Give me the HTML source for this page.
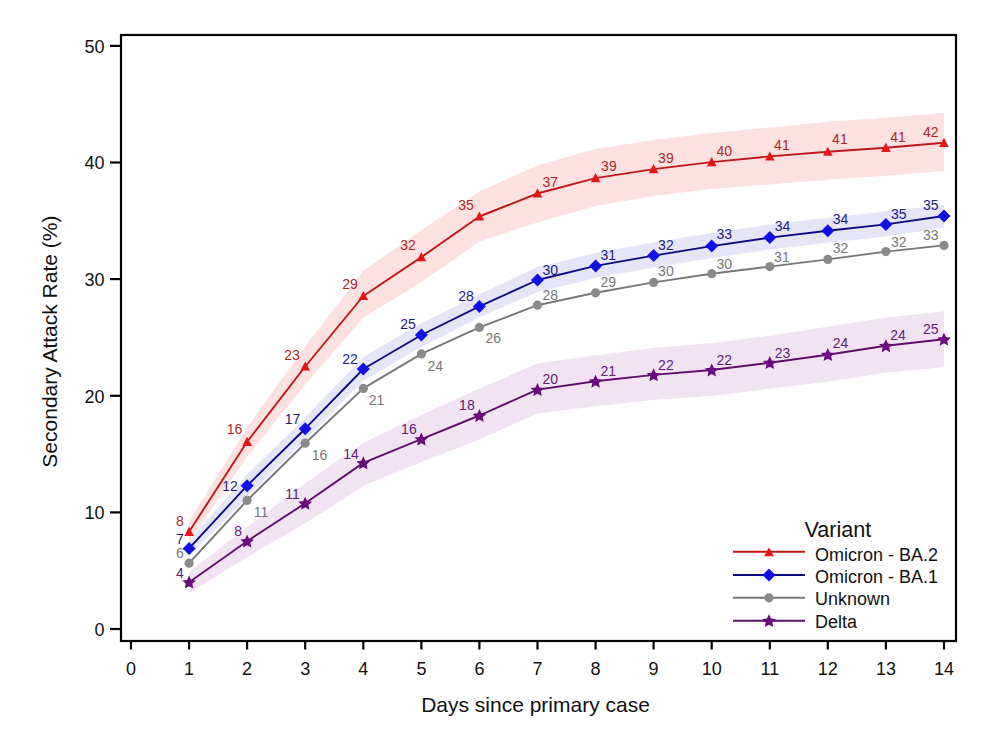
<!DOCTYPE html>
<html><head><meta charset="utf-8"><style>
html,body{margin:0;padding:0;background:#fff;}
svg{display:block;font-family:"Liberation Sans",sans-serif;}
</style></head><body>
<svg width="993" height="745" viewBox="0 0 993 745">
<rect width="993" height="745" fill="#fff"/>
<path d="M189.1,521.8 C189.1,521.8 247.1,427.8 247.1,427.8 C247.1,427.8 305.2,346.5 305.2,346.5 C305.2,346.5 363.3,271.0 363.3,271.0 C363.3,271.0 421.4,230.1 421.4,230.1 C421.4,230.1 479.4,191.5 479.4,191.5 C479.4,191.5 537.5,165.5 537.5,165.5 C537.5,165.5 595.6,149.1 595.6,149.1 C595.6,149.1 653.6,140.1 653.6,140.1 C653.6,140.1 711.7,133.1 711.7,133.1 C711.7,133.1 769.8,127.4 769.8,127.4 C769.8,127.4 827.8,121.7 827.8,121.7 C827.8,121.7 885.9,117.8 885.9,117.8 C885.9,117.8 944.0,112.8 944.0,112.8 L944.0,170.8 C944.0,170.8 885.9,175.8 885.9,175.8 C885.9,175.8 827.8,179.7 827.8,179.7 C827.8,179.7 769.8,184.4 769.8,184.4 C769.8,184.4 711.7,189.1 711.7,189.1 C711.7,189.1 653.6,196.1 653.6,196.1 C653.6,196.1 595.6,206.1 595.6,206.1 C595.6,206.1 537.5,222.5 537.5,222.5 C537.5,222.5 479.4,241.5 479.4,241.5 C479.4,241.5 421.4,282.1 421.4,282.1 C421.4,282.1 363.3,318.0 363.3,318.0 C363.3,318.0 305.2,384.5 305.2,384.5 C305.2,384.5 247.1,456.8 247.1,456.8 C247.1,456.8 189.1,541.8 189.1,541.8 Z" fill="#fde1e1"/>
<path d="M189.1,540.4 C189.1,540.4 247.1,474.7 247.1,474.7 C247.1,474.7 305.2,417.7 305.2,417.7 C305.2,417.7 363.3,357.0 363.3,357.0 C363.3,357.0 421.4,323.0 421.4,323.0 C421.4,323.0 479.4,294.4 479.4,294.4 C479.4,294.4 537.5,267.0 537.5,267.0 C537.5,267.0 595.6,252.9 595.6,252.9 C595.6,252.9 653.6,242.6 653.6,242.6 C653.6,242.6 711.7,233.1 711.7,233.1 C711.7,233.1 769.8,224.6 769.8,224.6 C769.8,224.6 827.8,217.7 827.8,217.7 C827.8,217.7 885.9,211.4 885.9,211.4 C885.9,211.4 944.0,205.0 944.0,205.0 L944.0,228.0 C944.0,228.0 885.9,236.4 885.9,236.4 C885.9,236.4 827.8,242.7 827.8,242.7 C827.8,242.7 769.8,249.6 769.8,249.6 C769.8,249.6 711.7,258.1 711.7,258.1 C711.7,258.1 653.6,267.6 653.6,267.6 C653.6,267.6 595.6,277.9 595.6,277.9 C595.6,277.9 537.5,292.0 537.5,292.0 C537.5,292.0 479.4,317.4 479.4,317.4 C479.4,317.4 421.4,347.0 421.4,347.0 C421.4,347.0 363.3,381.0 363.3,381.0 C363.3,381.0 305.2,439.7 305.2,439.7 C305.2,439.7 247.1,496.7 247.1,496.7 C247.1,496.7 189.1,556.4 189.1,556.4 Z" fill="#e6e5f8"/>
<path d="M189.1,572.2 C189.1,572.2 247.1,527.2 247.1,527.2 C247.1,527.2 305.2,483.3 305.2,483.3 C305.2,483.3 363.3,442.9 363.3,442.9 C363.3,442.9 421.4,415.1 421.4,415.1 C421.4,415.1 479.4,388.5 479.4,388.5 C479.4,388.5 537.5,363.6 537.5,363.6 C537.5,363.6 595.6,355.3 595.6,355.3 C595.6,355.3 653.6,347.9 653.6,347.9 C653.6,347.9 711.7,343.0 711.7,343.0 C711.7,343.0 769.8,335.7 769.8,335.7 C769.8,335.7 827.8,326.7 827.8,326.7 C827.8,326.7 885.9,317.8 885.9,317.8 C885.9,317.8 944.0,311.3 944.0,311.3 L944.0,367.3 C944.0,367.3 885.9,372.8 885.9,372.8 C885.9,372.8 827.8,381.7 827.8,381.7 C827.8,381.7 769.8,388.7 769.8,388.7 C769.8,388.7 711.7,396.0 711.7,396.0 C711.7,396.0 653.6,399.9 653.6,399.9 C653.6,399.9 595.6,406.3 595.6,406.3 C595.6,406.3 537.5,413.6 537.5,413.6 C537.5,413.6 479.4,439.5 479.4,439.5 C479.4,439.5 421.4,462.1 421.4,462.1 C421.4,462.1 363.3,485.9 363.3,485.9 C363.3,485.9 305.2,523.3 305.2,523.3 C305.2,523.3 247.1,557.2 247.1,557.2 C247.1,557.2 189.1,593.2 189.1,593.2 Z" fill="#f1e3f2"/>
<polyline points="189.1,563.2 247.1,500.4 305.2,443.2 363.3,388.4 421.4,353.9 479.4,327.4 537.5,305.2 595.6,292.8 653.6,282.4 711.7,273.7 769.8,266.6 827.8,259.4 885.9,251.6 944.0,245.4" fill="none" stroke="#777777" stroke-width="1.9" stroke-linejoin="round"/>
<polyline points="189.1,582.2 247.1,541.2 305.2,503.3 363.3,462.9 421.4,439.1 479.4,415.5 537.5,389.6 595.6,381.3 653.6,374.9 711.7,370.0 769.8,362.7 827.8,354.7 885.9,345.8 944.0,339.3" fill="none" stroke="#5e0f6a" stroke-width="1.9" stroke-linejoin="round"/>
<polyline points="189.1,548.4 247.1,485.7 305.2,428.7 363.3,369.0 421.4,335.0 479.4,306.4 537.5,280.0 595.6,265.9 653.6,255.6 711.7,246.1 769.8,237.6 827.8,230.7 885.9,224.4 944.0,216.0" fill="none" stroke="#0c0c80" stroke-width="1.9" stroke-linejoin="round"/>
<polyline points="189.1,531.8 247.1,441.8 305.2,366.5 363.3,296.0 421.4,257.1 479.4,216.5 537.5,193.5 595.6,178.1 653.6,169.1 711.7,162.1 769.8,156.4 827.8,151.7 885.9,147.8 944.0,142.8" fill="none" stroke="#bc1a1a" stroke-width="1.9" stroke-linejoin="round"/>
<circle cx="189.1" cy="563.2" r="4.6" fill="#8a8a8a"/>
<polygon points="189.07,575.60 191.10,580.00 195.92,580.58 192.36,583.87 193.30,588.62 189.07,586.26 184.84,588.62 185.78,583.87 182.22,580.58 187.04,580.00" fill="#6a0a7e"/>
<path d="M189.1,541.9 L195.6,548.4 L189.1,554.9 L182.6,548.4Z" fill="#1010e6"/>
<path d="M189.1,526.8 L193.9,535.9 L184.3,535.9Z" fill="#e81414"/>
<circle cx="247.1" cy="500.4" r="4.6" fill="#8a8a8a"/>
<polygon points="247.14,534.60 249.17,539.00 253.99,539.58 250.43,542.87 251.37,547.62 247.14,545.26 242.91,547.62 243.85,542.87 240.29,539.58 245.11,539.00" fill="#6a0a7e"/>
<path d="M247.1,479.2 L253.6,485.7 L247.1,492.2 L240.6,485.7Z" fill="#1010e6"/>
<path d="M247.1,436.8 L251.9,445.9 L242.3,445.9Z" fill="#e81414"/>
<circle cx="305.2" cy="443.2" r="4.6" fill="#8a8a8a"/>
<polygon points="305.21,496.70 307.24,501.10 312.06,501.68 308.50,504.97 309.44,509.72 305.21,507.36 300.98,509.72 301.92,504.97 298.36,501.68 303.18,501.10" fill="#6a0a7e"/>
<path d="M305.2,422.2 L311.7,428.7 L305.2,435.2 L298.7,428.7Z" fill="#1010e6"/>
<path d="M305.2,361.5 L310.0,370.6 L300.4,370.6Z" fill="#e81414"/>
<circle cx="363.3" cy="388.4" r="4.6" fill="#8a8a8a"/>
<polygon points="363.28,456.30 365.31,460.70 370.13,461.28 366.57,464.57 367.51,469.32 363.28,466.96 359.05,469.32 359.99,464.57 356.43,461.28 361.25,460.70" fill="#6a0a7e"/>
<path d="M363.3,362.5 L369.8,369.0 L363.3,375.5 L356.8,369.0Z" fill="#1010e6"/>
<path d="M363.3,291.0 L368.1,300.1 L358.5,300.1Z" fill="#e81414"/>
<circle cx="421.4" cy="353.9" r="4.6" fill="#8a8a8a"/>
<polygon points="421.35,432.50 423.38,436.90 428.20,437.48 424.64,440.77 425.58,445.52 421.35,443.16 417.12,445.52 418.06,440.77 414.50,437.48 419.32,436.90" fill="#6a0a7e"/>
<path d="M421.4,328.5 L427.9,335.0 L421.4,341.5 L414.9,335.0Z" fill="#1010e6"/>
<path d="M421.4,252.1 L426.2,261.2 L416.6,261.2Z" fill="#e81414"/>
<circle cx="479.4" cy="327.4" r="4.6" fill="#8a8a8a"/>
<polygon points="479.42,408.90 481.45,413.30 486.27,413.88 482.71,417.17 483.65,421.92 479.42,419.56 475.19,421.92 476.13,417.17 472.57,413.88 477.39,413.30" fill="#6a0a7e"/>
<path d="M479.4,299.9 L485.9,306.4 L479.4,312.9 L472.9,306.4Z" fill="#1010e6"/>
<path d="M479.4,211.5 L484.2,220.6 L474.6,220.6Z" fill="#e81414"/>
<circle cx="537.5" cy="305.2" r="4.6" fill="#8a8a8a"/>
<polygon points="537.49,383.00 539.52,387.40 544.34,387.98 540.78,391.27 541.72,396.02 537.49,393.66 533.26,396.02 534.20,391.27 530.64,387.98 535.46,387.40" fill="#6a0a7e"/>
<path d="M537.5,273.5 L544.0,280.0 L537.5,286.5 L531.0,280.0Z" fill="#1010e6"/>
<path d="M537.5,188.5 L542.3,197.6 L532.7,197.6Z" fill="#e81414"/>
<circle cx="595.6" cy="292.8" r="4.6" fill="#8a8a8a"/>
<polygon points="595.56,374.70 597.59,379.10 602.41,379.68 598.85,382.97 599.79,387.72 595.56,385.36 591.33,387.72 592.27,382.97 588.71,379.68 593.53,379.10" fill="#6a0a7e"/>
<path d="M595.6,259.4 L602.1,265.9 L595.6,272.4 L589.1,265.9Z" fill="#1010e6"/>
<path d="M595.6,173.1 L600.4,182.2 L590.8,182.2Z" fill="#e81414"/>
<circle cx="653.6" cy="282.4" r="4.6" fill="#8a8a8a"/>
<polygon points="653.63,368.30 655.66,372.70 660.48,373.28 656.92,376.57 657.86,381.32 653.63,378.96 649.40,381.32 650.34,376.57 646.78,373.28 651.60,372.70" fill="#6a0a7e"/>
<path d="M653.6,249.1 L660.1,255.6 L653.6,262.1 L647.1,255.6Z" fill="#1010e6"/>
<path d="M653.6,164.1 L658.4,173.2 L648.8,173.2Z" fill="#e81414"/>
<circle cx="711.7" cy="273.7" r="4.6" fill="#8a8a8a"/>
<polygon points="711.70,363.40 713.73,367.80 718.55,368.38 714.99,371.67 715.93,376.42 711.70,374.06 707.47,376.42 708.41,371.67 704.85,368.38 709.67,367.80" fill="#6a0a7e"/>
<path d="M711.7,239.6 L718.2,246.1 L711.7,252.6 L705.2,246.1Z" fill="#1010e6"/>
<path d="M711.7,157.1 L716.5,166.2 L706.9,166.2Z" fill="#e81414"/>
<circle cx="769.8" cy="266.6" r="4.6" fill="#8a8a8a"/>
<polygon points="769.77,356.10 771.80,360.50 776.62,361.08 773.06,364.37 774.00,369.12 769.77,366.76 765.54,369.12 766.48,364.37 762.92,361.08 767.74,360.50" fill="#6a0a7e"/>
<path d="M769.8,231.1 L776.3,237.6 L769.8,244.1 L763.3,237.6Z" fill="#1010e6"/>
<path d="M769.8,151.4 L774.6,160.5 L765.0,160.5Z" fill="#e81414"/>
<circle cx="827.8" cy="259.4" r="4.6" fill="#8a8a8a"/>
<polygon points="827.84,348.10 829.87,352.50 834.69,353.08 831.13,356.37 832.07,361.12 827.84,358.76 823.61,361.12 824.55,356.37 820.99,353.08 825.81,352.50" fill="#6a0a7e"/>
<path d="M827.8,224.2 L834.3,230.7 L827.8,237.2 L821.3,230.7Z" fill="#1010e6"/>
<path d="M827.8,146.7 L832.6,155.8 L823.0,155.8Z" fill="#e81414"/>
<circle cx="885.9" cy="251.6" r="4.6" fill="#8a8a8a"/>
<polygon points="885.91,339.20 887.94,343.60 892.76,344.18 889.20,347.47 890.14,352.22 885.91,349.86 881.68,352.22 882.62,347.47 879.06,344.18 883.88,343.60" fill="#6a0a7e"/>
<path d="M885.9,217.9 L892.4,224.4 L885.9,230.9 L879.4,224.4Z" fill="#1010e6"/>
<path d="M885.9,142.8 L890.7,151.9 L881.1,151.9Z" fill="#e81414"/>
<circle cx="944.0" cy="245.4" r="4.6" fill="#8a8a8a"/>
<polygon points="943.98,332.70 946.01,337.10 950.83,337.68 947.27,340.97 948.21,345.72 943.98,343.36 939.75,345.72 940.69,340.97 937.13,337.68 941.95,337.10" fill="#6a0a7e"/>
<path d="M944.0,209.5 L950.5,216.0 L944.0,222.5 L937.5,216.0Z" fill="#1010e6"/>
<path d="M944.0,137.8 L948.8,146.9 L939.2,146.9Z" fill="#e81414"/>
<g font-size="14">
<text x="180.0" y="525.9" fill="#a82a2a" text-anchor="middle">8</text>
<text x="234.6" y="433.7" fill="#a82a2a" text-anchor="middle">16</text>
<text x="292.0" y="359.9" fill="#a82a2a" text-anchor="middle">23</text>
<text x="350.0" y="288.9" fill="#a82a2a" text-anchor="middle">29</text>
<text x="408.1" y="249.8" fill="#a82a2a" text-anchor="middle">32</text>
<text x="466.1" y="209.9" fill="#a82a2a" text-anchor="middle">35</text>
<text x="550.2" y="186.5" fill="#a82a2a" text-anchor="middle">37</text>
<text x="608.9" y="170.7" fill="#a82a2a" text-anchor="middle">39</text>
<text x="665.9" y="162.6" fill="#a82a2a" text-anchor="middle">39</text>
<text x="724.2" y="155.6" fill="#a82a2a" text-anchor="middle">40</text>
<text x="781.9" y="150.2" fill="#a82a2a" text-anchor="middle">41</text>
<text x="839.9" y="144.4" fill="#a82a2a" text-anchor="middle">41</text>
<text x="898.1" y="141.7" fill="#a82a2a" text-anchor="middle">41</text>
<text x="930.7" y="136.6" fill="#a82a2a" text-anchor="middle">42</text>
<text x="180.0" y="543.5" fill="#1c1c80" text-anchor="middle">7</text>
<text x="230.0" y="491.1" fill="#1c1c80" text-anchor="middle">12</text>
<text x="292.6" y="424.4" fill="#1c1c80" text-anchor="middle">17</text>
<text x="350.0" y="364.1" fill="#1c1c80" text-anchor="middle">22</text>
<text x="408.1" y="328.9" fill="#1c1c80" text-anchor="middle">25</text>
<text x="466.1" y="300.9" fill="#1c1c80" text-anchor="middle">28</text>
<text x="550.2" y="274.7" fill="#1c1c80" text-anchor="middle">30</text>
<text x="608.2" y="260.2" fill="#1c1c80" text-anchor="middle">31</text>
<text x="665.9" y="249.8" fill="#1c1c80" text-anchor="middle">32</text>
<text x="724.2" y="239.3" fill="#1c1c80" text-anchor="middle">33</text>
<text x="782.6" y="230.7" fill="#1c1c80" text-anchor="middle">34</text>
<text x="840.6" y="224.2" fill="#1c1c80" text-anchor="middle">34</text>
<text x="898.8" y="218.9" fill="#1c1c80" text-anchor="middle">35</text>
<text x="930.7" y="209.8" fill="#1c1c80" text-anchor="middle">35</text>
<text x="180.0" y="557.9" fill="#777777" text-anchor="middle">6</text>
<text x="261.0" y="516.7" fill="#777777" text-anchor="middle">11</text>
<text x="319.5" y="460.0" fill="#777777" text-anchor="middle">16</text>
<text x="376.5" y="405.0" fill="#777777" text-anchor="middle">21</text>
<text x="435.3" y="370.6" fill="#777777" text-anchor="middle">24</text>
<text x="493.3" y="343.4" fill="#777777" text-anchor="middle">26</text>
<text x="550.2" y="299.8" fill="#777777" text-anchor="middle">28</text>
<text x="608.2" y="287.4" fill="#777777" text-anchor="middle">29</text>
<text x="665.9" y="276.0" fill="#777777" text-anchor="middle">30</text>
<text x="724.2" y="269.0" fill="#777777" text-anchor="middle">30</text>
<text x="781.9" y="261.5" fill="#777777" text-anchor="middle">31</text>
<text x="840.6" y="253.2" fill="#777777" text-anchor="middle">32</text>
<text x="898.8" y="246.8" fill="#777777" text-anchor="middle">32</text>
<text x="930.7" y="239.6" fill="#777777" text-anchor="middle">33</text>
<text x="180.0" y="577.6" fill="#5e1e72" text-anchor="middle">4</text>
<text x="238.2" y="535.7" fill="#5e1e72" text-anchor="middle">8</text>
<text x="292.5" y="498.7" fill="#5e1e72" text-anchor="middle">11</text>
<text x="351.0" y="458.5" fill="#5e1e72" text-anchor="middle">14</text>
<text x="408.9" y="434.0" fill="#5e1e72" text-anchor="middle">16</text>
<text x="466.9" y="409.7" fill="#5e1e72" text-anchor="middle">18</text>
<text x="550.2" y="384.3" fill="#5e1e72" text-anchor="middle">20</text>
<text x="608.2" y="375.9" fill="#5e1e72" text-anchor="middle">21</text>
<text x="665.9" y="370.1" fill="#5e1e72" text-anchor="middle">22</text>
<text x="724.2" y="364.9" fill="#5e1e72" text-anchor="middle">22</text>
<text x="782.6" y="357.6" fill="#5e1e72" text-anchor="middle">23</text>
<text x="840.6" y="347.8" fill="#5e1e72" text-anchor="middle">24</text>
<text x="898.1" y="340.4" fill="#5e1e72" text-anchor="middle">24</text>
<text x="930.7" y="333.9" fill="#5e1e72" text-anchor="middle">25</text>
</g>
<rect x="121" y="35" width="835" height="606" fill="none" stroke="#000" stroke-width="2.2"/>
<g font-size="18" fill="#111"><line x1="110" y1="629.0" x2="121" y2="629.0" stroke="#000" stroke-width="2.2"/>
<text x="104.5" y="635.7" text-anchor="end">0</text>
<line x1="110" y1="512.4" x2="121" y2="512.4" stroke="#000" stroke-width="2.2"/>
<text x="104.5" y="519.1" text-anchor="end">10</text>
<line x1="110" y1="395.8" x2="121" y2="395.8" stroke="#000" stroke-width="2.2"/>
<text x="104.5" y="402.5" text-anchor="end">20</text>
<line x1="110" y1="279.1" x2="121" y2="279.1" stroke="#000" stroke-width="2.2"/>
<text x="104.5" y="285.8" text-anchor="end">30</text>
<line x1="110" y1="162.5" x2="121" y2="162.5" stroke="#000" stroke-width="2.2"/>
<text x="104.5" y="169.2" text-anchor="end">40</text>
<line x1="110" y1="45.9" x2="121" y2="45.9" stroke="#000" stroke-width="2.2"/>
<text x="104.5" y="52.6" text-anchor="end">50</text>
<line x1="131.0" y1="641" x2="131.0" y2="649.5" stroke="#000" stroke-width="2.2"/>
<text x="131.0" y="675.3" text-anchor="middle">0</text>
<line x1="189.1" y1="641" x2="189.1" y2="649.5" stroke="#000" stroke-width="2.2"/>
<text x="189.1" y="675.3" text-anchor="middle">1</text>
<line x1="247.1" y1="641" x2="247.1" y2="649.5" stroke="#000" stroke-width="2.2"/>
<text x="247.1" y="675.3" text-anchor="middle">2</text>
<line x1="305.2" y1="641" x2="305.2" y2="649.5" stroke="#000" stroke-width="2.2"/>
<text x="305.2" y="675.3" text-anchor="middle">3</text>
<line x1="363.3" y1="641" x2="363.3" y2="649.5" stroke="#000" stroke-width="2.2"/>
<text x="363.3" y="675.3" text-anchor="middle">4</text>
<line x1="421.4" y1="641" x2="421.4" y2="649.5" stroke="#000" stroke-width="2.2"/>
<text x="421.4" y="675.3" text-anchor="middle">5</text>
<line x1="479.4" y1="641" x2="479.4" y2="649.5" stroke="#000" stroke-width="2.2"/>
<text x="479.4" y="675.3" text-anchor="middle">6</text>
<line x1="537.5" y1="641" x2="537.5" y2="649.5" stroke="#000" stroke-width="2.2"/>
<text x="537.5" y="675.3" text-anchor="middle">7</text>
<line x1="595.6" y1="641" x2="595.6" y2="649.5" stroke="#000" stroke-width="2.2"/>
<text x="595.6" y="675.3" text-anchor="middle">8</text>
<line x1="653.6" y1="641" x2="653.6" y2="649.5" stroke="#000" stroke-width="2.2"/>
<text x="653.6" y="675.3" text-anchor="middle">9</text>
<line x1="711.7" y1="641" x2="711.7" y2="649.5" stroke="#000" stroke-width="2.2"/>
<text x="711.7" y="675.3" text-anchor="middle">10</text>
<line x1="769.8" y1="641" x2="769.8" y2="649.5" stroke="#000" stroke-width="2.2"/>
<text x="769.8" y="675.3" text-anchor="middle">11</text>
<line x1="827.8" y1="641" x2="827.8" y2="649.5" stroke="#000" stroke-width="2.2"/>
<text x="827.8" y="675.3" text-anchor="middle">12</text>
<line x1="885.9" y1="641" x2="885.9" y2="649.5" stroke="#000" stroke-width="2.2"/>
<text x="885.9" y="675.3" text-anchor="middle">13</text>
<line x1="944.0" y1="641" x2="944.0" y2="649.5" stroke="#000" stroke-width="2.2"/>
<text x="944.0" y="675.3" text-anchor="middle">14</text></g>
<text x="535.5" y="712" font-size="21" text-anchor="middle" fill="#111">Days since primary case</text>
<text transform="translate(56.8,341.6) rotate(-90)" font-size="21" text-anchor="middle" fill="#111">Secondary Attack Rate (%)</text>
<text x="804.5" y="537" font-size="21.6" fill="#111">Variant</text>
<line x1="733" y1="551.7" x2="805" y2="551.7" stroke="#bc1a1a" stroke-width="2"/>
<path d="M769.0,547.2 L773.8,556.3 L764.2,556.3Z" fill="#e81414"/>
<text x="815" y="560.6" font-size="18" fill="#111">Omicron - BA.2</text>
<line x1="733" y1="575" x2="805" y2="575" stroke="#0c0c80" stroke-width="2"/>
<path d="M769.0,568.5 L775.5,575.0 L769.0,581.5 L762.5,575.0Z" fill="#1010e6"/>
<text x="815" y="582.8" font-size="18" fill="#111">Omicron - BA.1</text>
<line x1="733" y1="597.8" x2="805" y2="597.8" stroke="#777777" stroke-width="2"/>
<circle cx="769.0" cy="597.8" r="4.6" fill="#8a8a8a"/>
<text x="815" y="605.3" font-size="18" fill="#111">Unknown</text>
<line x1="733" y1="620.7" x2="805" y2="620.7" stroke="#5e0f6a" stroke-width="2"/>
<polygon points="769.00,614.10 771.03,618.50 775.85,619.08 772.29,622.37 773.23,627.12 769.00,624.76 764.77,627.12 765.71,622.37 762.15,619.08 766.97,618.50" fill="#6a0a7e"/>
<text x="815" y="628.3" font-size="18" fill="#111">Delta</text>
</svg>
</body></html>
